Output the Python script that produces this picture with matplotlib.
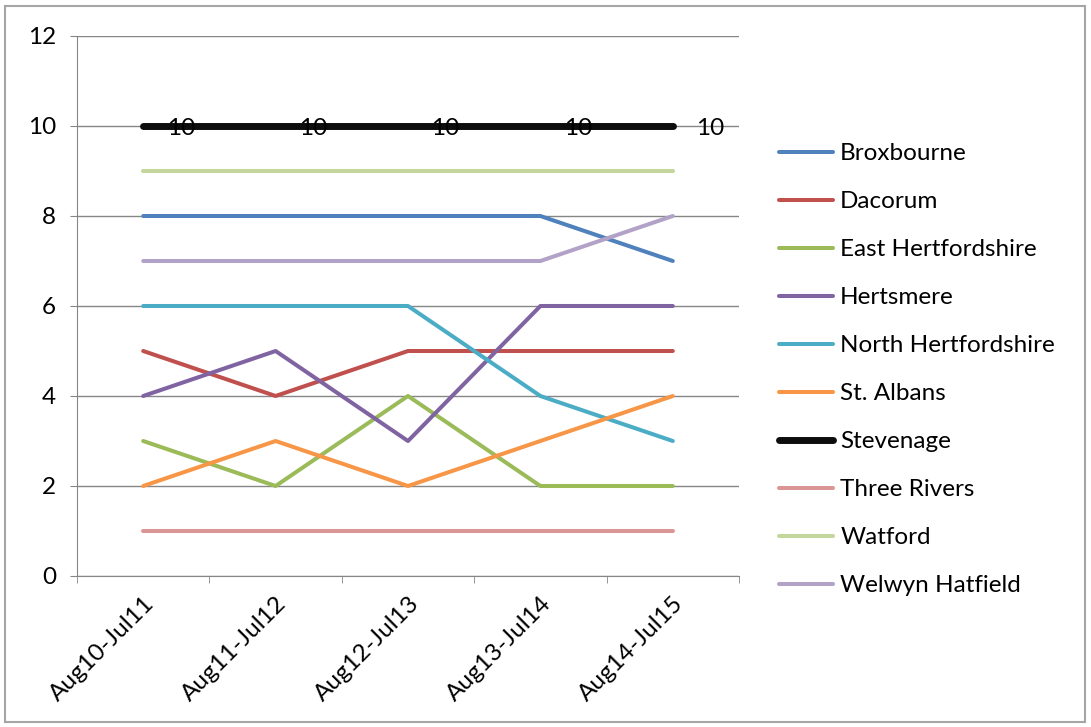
import matplotlib
matplotlib.use("Agg")
import matplotlib.pyplot as plt
from matplotlib.patches import Rectangle

plt.rcParams['font.family'] = ['Lato', 'DejaVu Sans']

periods = ["Aug10-Jul11", "Aug11-Jul12", "Aug12-Jul13", "Aug13-Jul14", "Aug14-Jul15"]
districts = ["Broxbourne", "Dacorum", "East Hertfordshire", "Hertsmere",
             "North Hertfordshire", "St. Albans", "Stevenage", "Three Rivers",
             "Watford", "Welwyn Hatfield"]

broxbourne = [8, 8, 8, 8, 7]
dacorum = [5, 4, 5, 5, 5]
east_herts = [3, 2, 4, 2, 2]
hertsmere = [4, 5, 3, 6, 6]
north_herts = [6, 6, 6, 4, 3]
st_albans = [2, 3, 2, 3, 4]
stevenage = [10, 10, 10, 10, 10]
three_rivers = [1, 1, 1, 1, 1]
watford = [9, 9, 9, 9, 9]
welwyn = [7, 7, 7, 7, 8]

series = [broxbourne, dacorum, east_herts, hertsmere, north_herts,
          st_albans, stevenage, three_rivers, watford, welwyn]
colors = ["#4F81BD", "#C0504D", "#9BBB59", "#8064A2", "#4BACC6",
          "#F79646", "#0D0D0D", "#D99694", "#C3D69B", "#B3A2C7"]

fs = 17.5

fig = plt.figure(figsize=(10.91, 7.27), dpi=100)
ax = fig.add_axes([77 / 1091, 1 - 576 / 727, (739 - 77) / 1091, (576 - 36) / 727])

# outer chart border
fig.patches.append(Rectangle((5 / 1091, 5 / 727), 1080 / 1091, 716 / 727,
                             transform=fig.transFigure, fill=False,
                             edgecolor="#a6a6a6", linewidth=1.5))

x = list(range(len(periods)))
for name, vals, c in zip(districts, series, colors):
    lw = 5 if name == "Stevenage" else 2.9
    ax.plot(x, vals, color=c, linewidth=lw, label=name,
            solid_capstyle="round", zorder=3)

# data labels for Stevenage
for xi, v in zip(x, stevenage):
    ax.annotate(str(v), (xi, v), xytext=(27, -2), textcoords="offset points",
                ha="center", va="center", fontsize=fs, zorder=4)

ax.set_xlim(-0.5, 4.5)
ax.set_ylim(0, 12)
ax.set_yticks(range(0, 13, 2))
ax.set_xticks(x)
ax.set_xticklabels(periods, rotation=45, ha="right", rotation_mode="anchor",
                   fontsize=fs)
ax.tick_params(axis="x", length=0, pad=12)
ax.tick_params(axis="y", labelsize=fs, length=5, color="#868686", pad=10)
ax.set_xticks([i + 0.5 for i in range(-1, 5)], minor=True)
ax.tick_params(axis="x", which="minor", length=5, color="#868686")

ax.grid(axis="y", color="#868686", linewidth=1)
ax.set_axisbelow(True)
for s in ["top", "right"]:
    ax.spines[s].set_visible(False)
for s in ["left", "bottom"]:
    ax.spines[s].set_color("#868686")

ax.legend(loc="upper left", bbox_to_anchor=(1.05, 0.815), frameon=False,
          fontsize=fs, handlelength=2.2, handletextpad=0.3,
          labelspacing=1.11, borderaxespad=0, borderpad=0.3)

fig.savefig("out.png", dpi=100)
